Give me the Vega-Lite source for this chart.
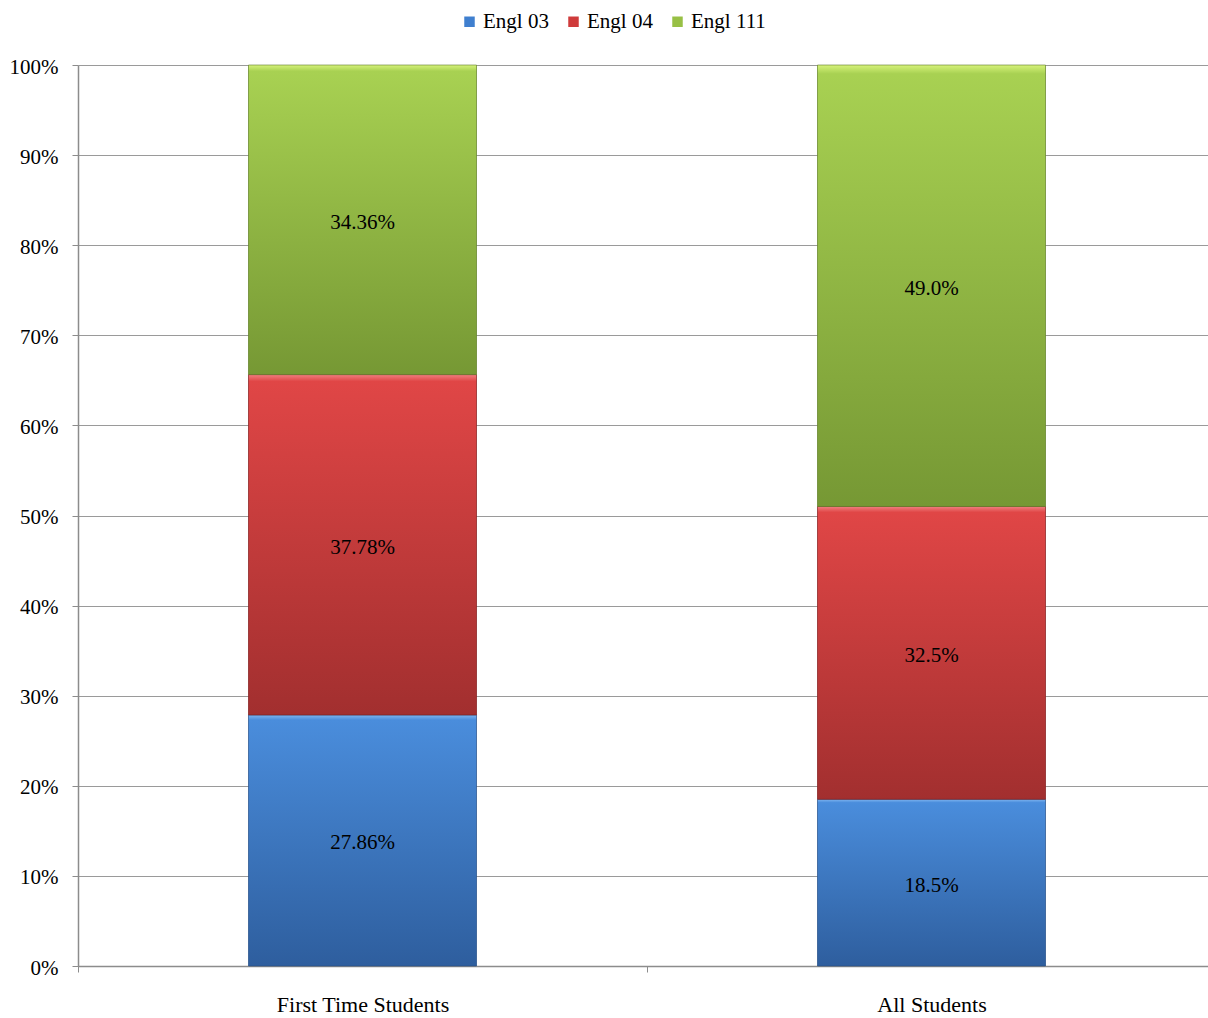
{
  "$schema": "https://vega.github.io/schema/vega-lite/v6.json",
  "autosize": {"type": "none"},
  "width": 1130,
  "height": 901,
  "padding": {"left": 78, "top": 65, "right": 0, "bottom": 52},
  "background": "white",
  "config": {
    "view": {"stroke": null},
    "font": "Liberation Serif",
    "axis": {"labelFont": "Liberation Serif", "labelFontSize": 21, "labelColor": "black", "domainColor": "#8c8c8c", "tickColor": "#8c8c8c", "gridColor": "#9a9a9a", "gridWidth": 1, "title": null}
  },
  "data": {
    "values": [
      {"group": "First Time Students", "series": "Engl 03", "pct": 27.86, "label": "27.86%"},
      {"group": "First Time Students", "series": "Engl 04", "pct": 37.78, "label": "37.78%"},
      {"group": "First Time Students", "series": "Engl 111", "pct": 34.36, "label": "34.36%"},
      {"group": "All Students", "series": "Engl 03", "pct": 18.5, "label": "18.5%"},
      {"group": "All Students", "series": "Engl 04", "pct": 32.5, "label": "32.5%"},
      {"group": "All Students", "series": "Engl 111", "pct": 49.0, "label": "49.0%"}
    ]
  },
  "transform": [
    {"stack": "pct", "groupby": ["group"], "sort": [{"field": "series", "order": "ascending"}], "as": ["y0", "y1"]},
    {"calculate": "(datum.y0 + datum.y1) / 2", "as": "mid"}
  ],
  "encoding": {
    "x": {
      "field": "group", "type": "nominal", "sort": ["First Time Students", "All Students"],
      "scale": {"paddingInner": 0, "paddingOuter": 0, "range": [0, 1138]},
      "axis": {"labelAngle": 0, "tickBand": "extent", "tickSize": 6, "labelPadding": 22, "domainWidth": 1.5, "labelFontSize": 22}
    }
  },
  "layer": [
    {
      "mark": {"type": "bar", "width": 228},
      "encoding": {
        "y": {"field": "y0", "type": "quantitative", "scale": {"domain": [0, 100]},
          "axis": {"values": [0,10,20,30,40,50,60,70,80,90,100], "labelExpr": "datum.value + '%'", "tickSize": 6, "labelPadding": 14, "labelOffset": 2, "grid": true, "domainWidth": 1.5}},
        "y2": {"field": "y1"},
        "color": {"field": "series", "type": "nominal",
          "scale": {"domain": ["Engl 03", "Engl 04", "Engl 111"], "range": ["#3f7fcf", "#cf3b3b", "#98c045"]},
          "legend": {"orient": "none", "legendX": 381, "legendY": -54, "direction": "horizontal", "title": null,
            "symbolType": "square", "symbolSize": 110, "symbolStrokeWidth": 0, "labelFont": "Liberation Serif", "labelFontSize": 21, "labelColor": "black", "columnPadding": 14, "labelOffset": 3}}
      }
    },
    {
      "transform": [{"filter": "datum.series == 'Engl 03'"}],
      "mark": {"type": "bar", "width": 228, "stroke": "#2a4f80", "strokeWidth": 1, "strokeOpacity": 0.6,
        "color": {"gradient": "linear", "x1": 0, "y1": 0, "x2": 0, "y2": 1, "stops": [{"offset": 0, "color": "#7fb5f0"}, {"offset": 0.02, "color": "#4a8ddc"}, {"offset": 1, "color": "#2e5e9e"}]}},
      "encoding": {"y": {"field": "y0", "type": "quantitative"}, "y2": {"field": "y1"}}
    },
    {
      "transform": [{"filter": "datum.series == 'Engl 04'"}],
      "mark": {"type": "bar", "width": 228, "stroke": "#7a2222", "strokeWidth": 1, "strokeOpacity": 0.6,
        "color": {"gradient": "linear", "x1": 0, "y1": 0, "x2": 0, "y2": 1, "stops": [{"offset": 0, "color": "#f08080"}, {"offset": 0.02, "color": "#e04646"}, {"offset": 1, "color": "#a22f2f"}]}},
      "encoding": {"y": {"field": "y0", "type": "quantitative"}, "y2": {"field": "y1"}}
    },
    {
      "transform": [{"filter": "datum.series == 'Engl 111'"}],
      "mark": {"type": "bar", "width": 228, "stroke": "#5d7a2a", "strokeWidth": 1, "strokeOpacity": 0.6,
        "color": {"gradient": "linear", "x1": 0, "y1": 0, "x2": 0, "y2": 1, "stops": [{"offset": 0, "color": "#d6f27a"}, {"offset": 0.02, "color": "#a8d152"}, {"offset": 1, "color": "#769834"}]}},
      "encoding": {"y": {"field": "y0", "type": "quantitative"}, "y2": {"field": "y1"}}
    },
    {
      "mark": {"type": "text", "font": "Liberation Serif", "fontSize": 21, "color": "black", "baseline": "middle", "align": "center", "dy": 3},
      "encoding": {"y": {"field": "mid", "type": "quantitative"}, "text": {"field": "label", "type": "nominal"}}
    }
  ]
}
